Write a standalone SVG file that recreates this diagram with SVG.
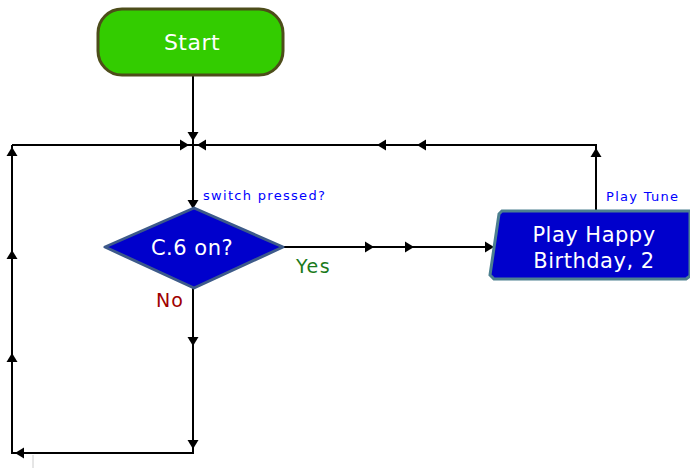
<svg xmlns="http://www.w3.org/2000/svg" xmlns:xlink="http://www.w3.org/1999/xlink" width="690" height="468" viewBox="0 0 690 468">
<style>
.ln{stroke:#000;stroke-width:2;fill:none}
.ah{fill:#000}
.wt{font-family:"DejaVu Sans","Liberation Sans",sans-serif;fill:#fff;text-anchor:middle}
.lbl{font-family:"DejaVu Sans","Liberation Sans",sans-serif;font-size:13px;letter-spacing:1.3px;fill:#0000ff}
</style>
<defs>
<path id="ah" d="M0,0 L-9,-5.5 L-9,5.5 Z"/>
</defs>
<rect width="690" height="468" fill="#fff"/>
<g id="connectors">
<path class="ln" d="M193,76 V145"/>
<path class="ln" d="M12,145 H596 V212"/>
<path class="ln" d="M193,145 V210"/>
<path class="ln" d="M283,247 H491"/>
<path class="ln" d="M193,288 V453 H12 V145"/>
<line x1="33" y1="455" x2="33" y2="468" stroke="#ccc" stroke-width="1"/>
<g class="ah">
<use xlink:href="#ah" transform="translate(193,141) rotate(90)"/>
<use xlink:href="#ah" transform="translate(189,145)"/>
<use xlink:href="#ah" transform="translate(197,145) rotate(180)"/>
<use xlink:href="#ah" transform="translate(193,209) rotate(90)"/>
<use xlink:href="#ah" transform="translate(12,147) rotate(-90)"/>
<use xlink:href="#ah" transform="translate(12,250) rotate(-90)"/>
<use xlink:href="#ah" transform="translate(12,353) rotate(-90)"/>
<use xlink:href="#ah" transform="translate(15,453) rotate(180)"/>
<use xlink:href="#ah" transform="translate(193,346) rotate(90)"/>
<use xlink:href="#ah" transform="translate(193,449) rotate(90)"/>
<use xlink:href="#ah" transform="translate(374,247)"/>
<use xlink:href="#ah" transform="translate(414,247)"/>
<use xlink:href="#ah" transform="translate(494,247)"/>
<use xlink:href="#ah" transform="translate(377,145) rotate(180)"/>
<use xlink:href="#ah" transform="translate(417,145) rotate(180)"/>
<use xlink:href="#ah" transform="translate(596,148) rotate(-90)"/>
</g>
<text class="lbl" x="203" y="200">switch pressed?</text>
<text class="lbl" x="606" y="201">Play Tune</text>
<text x="296" y="273" font-family="DejaVu Sans, Liberation Sans, sans-serif" font-size="19" letter-spacing="1.5" fill="#1a7a1a">Yes</text>
<text x="156" y="307" font-family="DejaVu Sans, Liberation Sans, sans-serif" font-size="19" letter-spacing="1" fill="#a00000">No</text>
</g>
<g id="start">
<rect x="98" y="9" width="185" height="66" rx="24" fill="#33cc00" stroke="#4d4d1a" stroke-width="3"/>
<text class="wt" x="192" y="50" font-size="22" letter-spacing="0.5">Start</text>
</g>
<g id="decision">
<polygon points="105,247 194,208 283,247 194,288" fill="#0000cc" stroke="#3d5a8a" stroke-width="3" stroke-linejoin="round"/>
<text class="wt" x="192" y="255" font-size="21" letter-spacing="0.5">C.6 on?</text>
</g>
<g id="play">
<polygon points="502,211 690,211 690,276 686,279 494,279 490,275 499,214" fill="#0000cc" stroke="#4d8090" stroke-width="3"/>
<text class="wt" x="594" y="242" font-size="21" letter-spacing="0.5">Play Happy</text>
<text class="wt" x="594" y="268" font-size="21" letter-spacing="0.5">Birthday, 2</text>
</g>
</svg>
